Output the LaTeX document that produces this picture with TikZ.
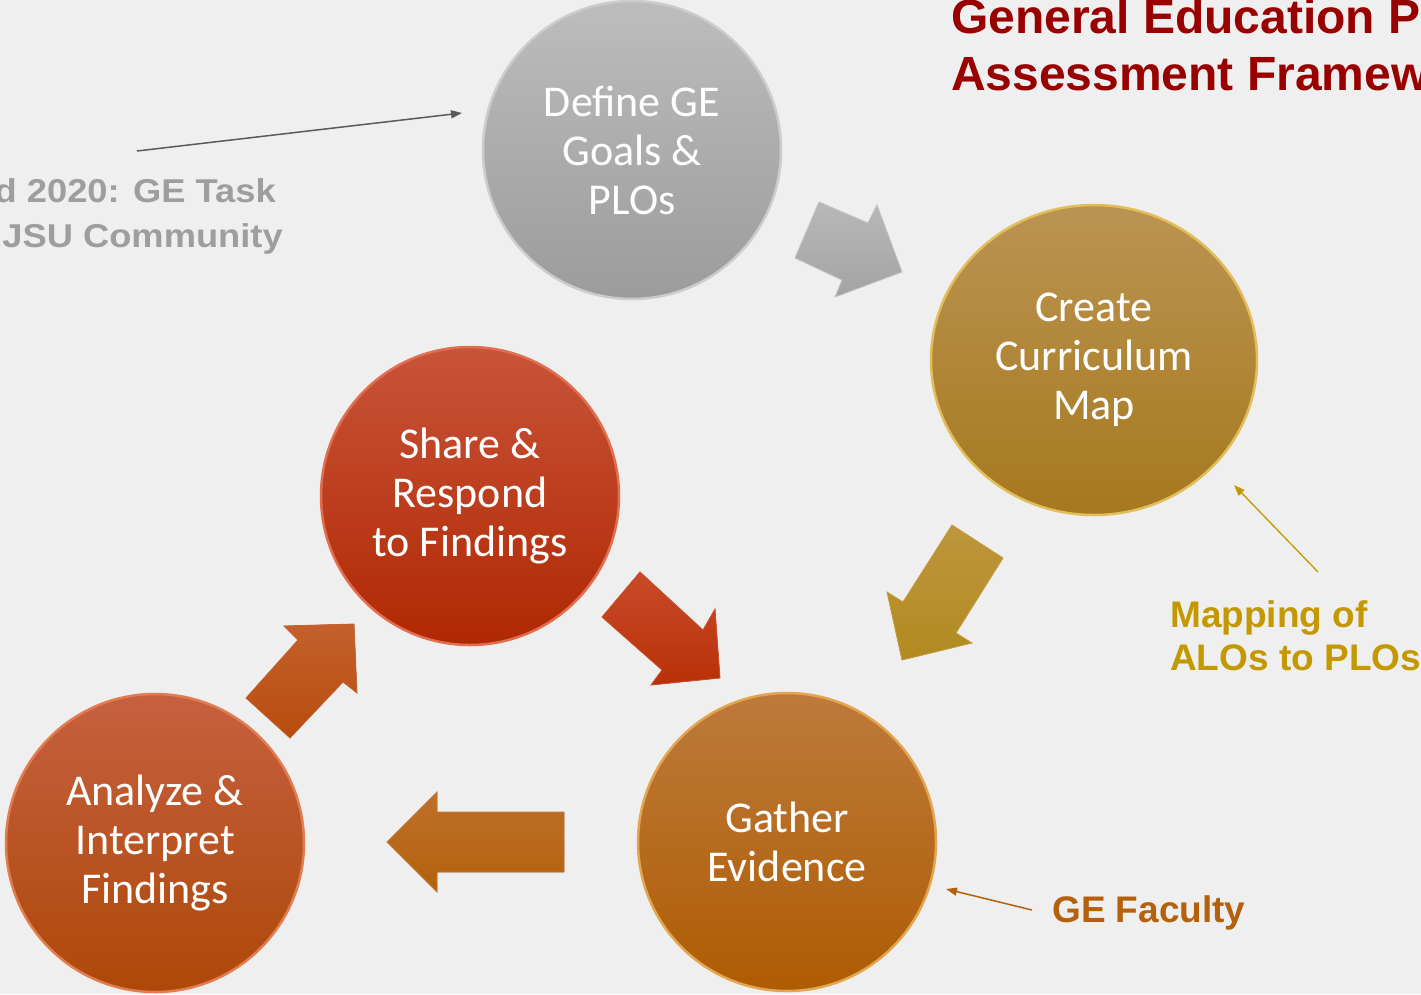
\documentclass[tikz,border=0pt]{standalone}
\usepackage{fontspec}
\setmainfont{Carlito}
\newfontfamily\arialfont{Liberation Sans}
\usetikzlibrary{shapes.geometric,arrows.meta}
\definecolor{bg}{HTML}{EFEFEF}
\definecolor{titlered}{HTML}{990000}
\definecolor{leftgray}{HTML}{9E9E9E}
\definecolor{mapgold}{HTML}{C39800}
\definecolor{facorange}{HTML}{B5600A}
\begin{document}
\begin{tikzpicture}[x=1pt,y=-1pt,
  circ/.style={circle, minimum size=298pt, inner sep=0pt, align=center, text=white,
    font=\fontsize{44}{49}\selectfont, line width=2.5pt},
  blockarrow/.style={line width=0.8pt},
  note/.style={font=\arialfont\bfseries\fontsize{37}{43}\selectfont, inner sep=0pt},
  pointer/.style={line width=1.5pt, -{Triangle[length=11pt,width=8pt]}}
]
\useasboundingbox (0,0) rectangle (1421,994);
\fill[bg] (0,0) rectangle (1421,994);
\clip (0,0) rectangle (1421,994);

% circles
\node[circ, top color=black!26, bottom color=black!39, draw=white!80!black] (define) at (632,150) {Define GE\\Goals \&\\PLOs};
\node[ellipse, minimum width=326pt, minimum height=310pt, inner sep=0pt, align=center, text=white,
    font=\fontsize{44}{49}\selectfont, line width=2.5pt,
    top color={rgb,255:red,187;green,148;blue,82}, bottom color={rgb,255:red,166;green,120;blue,30},
    draw={rgb,255:red,226;green,190;blue,90}] (create) at (1094,360) {Create\\Curriculum\\Map};
\node[circ, top color={rgb,255:red,200;green,84;blue,58}, bottom color={rgb,255:red,176;green,40;blue,2},
    draw={rgb,255:red,226;green,110;blue,80}] (share) at (470,496) {Share \&\\Respond\\to Findings};
\node[circ, top color={rgb,255:red,190;green,122;blue,60}, bottom color={rgb,255:red,174;green,92;blue,2},
    draw={rgb,255:red,228;green,165;blue,80}] (gather) at (787,842) {Gather\\Evidence};
\node[circ, top color={rgb,255:red,198;green,96;blue,64}, bottom color={rgb,255:red,174;green,72;blue,8},
    draw={rgb,255:red,226;green,125;blue,80}] (analyze) at (155,843) {Analyze \&\\Interpret\\Findings};

% block arrows
\filldraw[blockarrow, top color=black!28, bottom color=black!36, draw=black!22]
  (819,202) -- (868,223) -- (877,205) -- (902,272) -- (835,297) -- (842,280) -- (795,258) -- cycle;
\filldraw[blockarrow, top color={rgb,255:red,190;green,150;blue,60}, bottom color={rgb,255:red,178;green,138;blue,32}, draw={rgb,255:red,200;green,160;blue,60}]
  (952,525) -- (1003,558) -- (956,633) -- (972,643) -- (902,660) -- (887,592) -- (903,602) -- cycle;
\filldraw[blockarrow, top color={rgb,255:red,200;green,75;blue,40}, bottom color={rgb,255:red,185;green,48;blue,8}, draw={rgb,255:red,205;green,80;blue,45}]
  (640,572) -- (703,630) -- (715,609) -- (720,678) -- (651,685) -- (662,670) -- (602,617) -- cycle;
\filldraw[blockarrow, top color={rgb,255:red,196;green,96;blue,44}, bottom color={rgb,255:red,184;green,76;blue,14}, draw={rgb,255:red,200;green,100;blue,50}]
  (246,698) -- (298,640) -- (284,626) -- (354,624) -- (357,693) -- (343,682) -- (290,738) -- cycle;
\filldraw[blockarrow, top color={rgb,255:red,190;green,112;blue,44}, bottom color={rgb,255:red,178;green,98;blue,10}, draw={rgb,255:red,200;green,120;blue,55}]
  (387,842) -- (437,792) -- (437,812) -- (564,812) -- (564,872) -- (437,872) -- (437,892) -- cycle;

% title
\node[anchor=base west, inner sep=0pt, text=titlered, font=\arialfont\bfseries\fontsize{48}{57}\selectfont] (title1) at (951,33) {General Education P};
\node[anchor=base west, inner sep=0pt, text=titlered, font=\arialfont\bfseries\fontsize{48}{57}\selectfont] (title2) at (951,90) {Assessment Framew};

% left note
\node[anchor=base east, inner sep=0pt, text=leftgray, font=\arialfont\bfseries\fontsize{33}{45}\selectfont] (task1) at (276,202) {\scalebox{1.1}[1]{d 2020: GE Task}};
\node[anchor=base east, inner sep=0pt, text=leftgray, font=\arialfont\bfseries\fontsize{33}{45}\selectfont] (task2) at (283,247) {\scalebox{1.1}[1]{JSU Community}};
\coordinate (taskstart) at (137,151);
\coordinate (taskend) at (462,113);
\draw[pointer, draw={rgb,255:red,90;green,90;blue,90}] (taskstart) -- (taskend);

% mapping note
\node[note, anchor=base west, text=mapgold] (map1) at (1170,627) {Mapping of};
\node[note, anchor=base west, text=mapgold] (map2) at (1170,670) {ALOs to PLOs};
\coordinate (mapstart) at (1318,572);
\coordinate (mapend) at (1234,485);
\draw[pointer, draw=mapgold, line width=1.3pt] (mapstart) -- (mapend);

% faculty note
\node[note, anchor=base west, text=facorange] (fac) at (1052,922) {GE Faculty};
\coordinate (facstart) at (1032,910);
\coordinate (facend) at (946,889);
\draw[pointer, draw=facorange] (facstart) -- (facend);
\end{tikzpicture}
\end{document}
